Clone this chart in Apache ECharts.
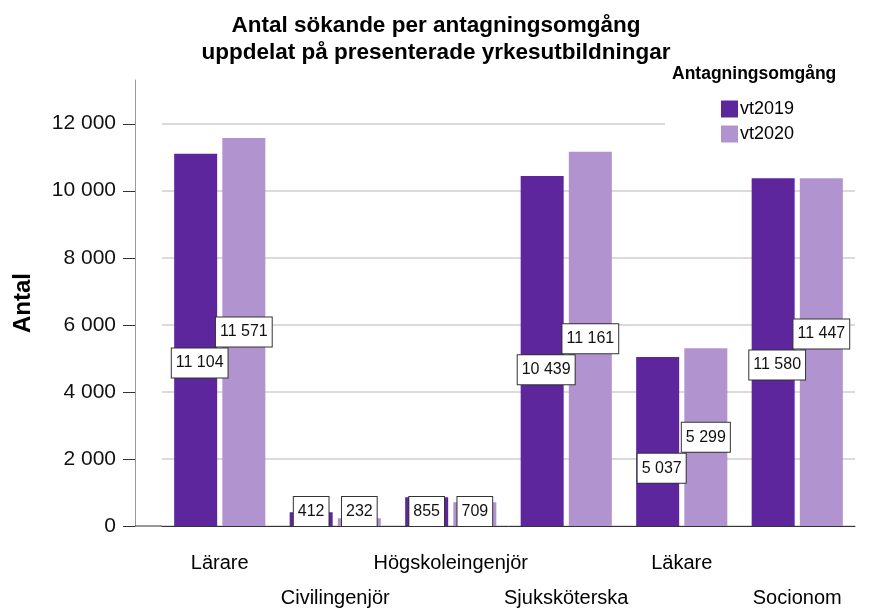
<!DOCTYPE html>
<html><head><meta charset="utf-8">
<script src="https://cdn.jsdelivr.net/npm/echarts@6/dist/echarts.min.js"></script>
<style>html,body{margin:0;padding:0;background:#fff}#c{width:872px;height:609px}</style>
</head><body><div id="c"></div>
<script>
const categories = ['Lärare', 'Civilingenjör', 'Högskoleingenjör', 'Sjuksköterska', 'Läkare', 'Socionom'];
const seriesNames = ['vt2019', 'vt2020'];
const vt2019 = [11104, 412, 855, 10439, 5037, 10370];
const vt2020 = [11571, 232, 709, 11161, 5299, 10370];
const labels2019 = [11104, 412, 855, 10439, 5037, 11580];
const labels2020 = [11571, 232, 709, 11161, 5299, 11447];
const yTicks = [0, 2000, 4000, 6000, 8000, 10000, 12000];

const FONT = '"Liberation Sans", Arial, sans-serif';
const colors = ['#5e269d', '#b093cf'];
const gridLeft = 162, yOffset = 27, gridBottom = 83, yTickLen = 12;

function fmt(n) { return String(n).replace(/\B(?=(\d{3})+(?!\d))/g, ' '); }

const labelStyle = {
  color: '#111', fontFamily: FONT, fontSize: 16, lineHeight: 18,
  backgroundColor: '#fff', borderColor: '#333', borderWidth: 1, padding: [6, 4, 5, 4]
};

// label placement: labels sit at half of their own value; the vt2019 label is pushed below the vt2020 label
function buildData(py) {
  const light = vt2020.map((v, i) => {
    const small = v < 2000;
    const dy = small ? 0 : py(labels2020[i] / 2) - py(v / 2);
    return { value: v, label: { show: true, formatter: fmt(labels2020[i]), position: small ? 'insideBottom' : 'inside', distance: 0, offset: [0, dy] } };
  });
  const dark = vt2019.map((v, i) => {
    const small = v < 2000;
    let dy = 0;
    if (!small) {
      const own = py(labels2019[i] / 2);
      const below = py(labels2020[i] / 2) + 31;
      dy = Math.max(own, below) - py(v / 2);
    }
    return { value: v, label: { show: true, formatter: fmt(labels2019[i]), position: small ? 'insideBottom' : 'inside', distance: 0, offset: small ? [0, 0] : [4, dy] } };
  });
  return [dark, light];
}

const xLabelBase = { color: '#000', fontFamily: FONT, fontSize: 20, lineHeight: 20 };

const chart = echarts.init(document.getElementById('c'), null, { renderer: 'canvas' });
chart.setOption({
  animation: false,
  title: {
    text: 'Antal sökande per antagningsomgång\nuppdelat på presenterade yrkesutbildningar',
    left: 'center', top: 7,
    textStyle: { fontFamily: FONT, fontSize: 22.5, fontWeight: 'bold', color: '#000', lineHeight: 27 }
  },
  grid: { left: gridLeft, right: 17, top: 80, bottom: gridBottom, containLabel: false },
  xAxis: [{
    type: 'category', data: categories, position: 'bottom',
    axisLine: { lineStyle: { color: '#333', width: 1 } },
    axisTick: { alignWithLabel: true, length: 13, lineStyle: { color: '#333' }, interval: (i) => i % 2 === 0 },
    axisLabel: Object.assign({ interval: (i) => i % 2 === 0, margin: 27 }, xLabelBase)
  }, {
    type: 'category', data: categories, position: 'bottom',
    axisLine: { show: false },
    axisTick: { alignWithLabel: true, length: 51, lineStyle: { color: '#333' }, interval: (i) => i % 2 === 1 },
    axisLabel: Object.assign({ interval: (i) => i % 2 === 1, margin: 62 }, xLabelBase)
  }],
  yAxis: {
    type: 'value', min: 0, max: 13300, interval: 2000, offset: yOffset,
    name: 'Antal', nameLocation: 'middle', nameGap: 100,
    nameTextStyle: { fontFamily: FONT, fontSize: 24, fontWeight: 'bold', color: '#000' },
    axisLine: { show: true, lineStyle: { color: '#999' } },
    axisTick: { show: false },
    axisLabel: {
      color: '#111', fontFamily: FONT, fontSize: 21, margin: 19, showMaxLabel: false,
      formatter: (v) => (yTicks.indexOf(v) >= 0 ? fmt(v) : '')
    },
    splitLine: { show: true, lineStyle: { color: '#cfcfcf', width: 1.5 }, showMaxLine: false }
  },
  legend: {
    orient: 'vertical', left: 716, top: 95, itemWidth: 17, itemHeight: 17, itemGap: 7,
    icon: 'rect', data: seriesNames, z: 20,
    textStyle: { fontFamily: FONT, fontSize: 18, color: '#000', padding: [0, 0, 0, -3] }
  },
  graphic: [
    { id: 'legendBg', type: 'rect', z: 15, shape: { x: 665, y: 60, width: 207, height: 92 }, style: { fill: '#fff' } },
    { id: 'legendTitle', type: 'text', z: 16, left: 672, top: 65, style: { text: 'Antagningsomgång', font: 'bold 17.5px "Liberation Sans", Arial, sans-serif', fill: '#000' } },
    { id: 'xExt', type: 'line', z: 5, shape: { x1: gridLeft - yOffset, y1: 609 - gridBottom, x2: gridLeft, y2: 609 - gridBottom }, style: { stroke: '#333', lineWidth: 1 } }
  ],
  series: [{
    name: seriesNames[0], type: 'bar', barWidth: 43, barGap: '12%',
    itemStyle: { color: colors[0] }, label: labelStyle, data: vt2019
  }, {
    name: seriesNames[1], type: 'bar', barWidth: 43, barGap: '12%',
    itemStyle: { color: colors[1] }, label: labelStyle, data: vt2020
  }]
});
const py = (v) => chart.convertToPixel({ yAxisIndex: 0 }, v);
const built = buildData(py);
const axisX = gridLeft - yOffset;
const tickMarks = yTicks.map((v, i) => {
  const y = Math.round(py(v)) + 0.5;
  return { id: 'ytick' + i, type: 'line', z: 6, shape: { x1: axisX - yTickLen, y1: y, x2: axisX, y2: y }, style: { stroke: '#333', lineWidth: 1 } };
});
chart.setOption({ series: [{ data: built[0] }, { data: built[1] }], graphic: tickMarks });
</script></body></html>
